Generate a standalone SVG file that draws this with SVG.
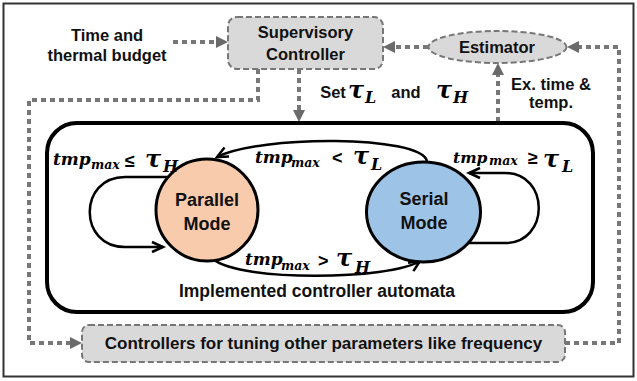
<svg xmlns="http://www.w3.org/2000/svg" width="637" height="381" viewBox="0 0 637 381">
<style>
.lbl{font-family:"Liberation Sans",Arial,sans-serif;font-weight:bold;font-size:16.5px;fill:#111;text-anchor:middle}
.sym{font-family:"Liberation Sans",Arial,sans-serif;font-weight:bold;font-size:18px;fill:#000}
.m{font-family:"DejaVu Serif",serif;font-weight:bold;font-style:italic;fill:#000}
.tmp{font-size:17px}
.sub{font-size:12.5px}
.tau{font-size:24px}
.tsub{font-size:16px}
.dot{fill:none;stroke:#777;stroke-width:4;stroke-dasharray:5 4}
.dbox{fill:#d9d9d9;stroke:#777;stroke-width:2;stroke-dasharray:6 3}
.tr{fill:none;stroke:#000;stroke-width:2.5}
</style>
<defs>
<marker id="ga" markerUnits="userSpaceOnUse" viewBox="0 0 12 12" markerWidth="12" markerHeight="12" refX="0" refY="6" orient="auto" overflow="visible"><path d="M0,0 L12,6 L0,12 Z" fill="#6a6a6a"/></marker>
<marker id="oa" markerUnits="userSpaceOnUse" viewBox="0 0 14 12" markerWidth="14" markerHeight="12" refX="12" refY="6" orient="auto" overflow="visible"><path d="M1,1 L12,6 L1,11" fill="none" stroke="#000" stroke-width="2.5" stroke-linejoin="miter"/></marker>
</defs>
<rect x="3.5" y="3.5" width="630" height="373" fill="#fff" stroke="#333" stroke-width="2"/>

<g id="connectors">
<path class="dot" d="M173 42 H216" marker-end="url(#ga)"/>
<path class="dot" d="M428 47 H395" marker-end="url(#ga)"/>
<path class="dot" d="M565 343 H619 V47 H579" marker-end="url(#ga)"/>
<path class="dot" d="M258 69 V100 H29 V343 H70" marker-end="url(#ga)"/>
<path class="dot" d="M299 69 V110" marker-end="url(#ga)"/>
<path class="dot" d="M498 122 V75" marker-end="url(#ga)"/>
<path class="tr" d="M427 161 C420 135 260 135 217 157" marker-end="url(#oa)"/>
<path class="tr" d="M213 259 C240 282 390 280 420 261" marker-end="url(#oa)"/>
<path class="tr" d="M168 177 L125 177 C78 177 78 247 125 247 L163 247" marker-end="url(#oa)"/>
<path class="tr" d="M468 243 L505 243 C550 243 550 173 505 173 L469 173" marker-end="url(#oa)"/>
</g>

<g id="automata">
<rect x="47" y="123" width="546" height="189" rx="30" fill="none" stroke="#000" stroke-width="4"/>
<text class="lbl" x="317" y="297" style="font-size:17.5px">Implemented controller automata</text>
</g>

<g id="time-budget">
<text class="lbl" x="107" y="41">Time and</text>
<text class="lbl" x="107" y="61">thermal budget</text>
</g>

<g id="supervisory">
<rect class="dbox" x="228" y="17" width="155" height="52" rx="9"/>
<text class="lbl" x="305.5" y="38">Supervisory</text>
<text class="lbl" x="305.5" y="60">Controller</text>
</g>

<g id="estimator">
<ellipse class="dbox" cx="497.5" cy="47" rx="69" ry="16"/>
<text class="lbl" x="497" y="53">Estimator</text>
</g>

<g id="set-label">
<text class="lbl" x="333" y="98">Set</text>
<text class="m tau" x="348" y="98">τ</text>
<text class="m tsub" x="365" y="103">L</text>
<text class="lbl" x="406" y="98">and</text>
<text class="m tau" x="436" y="98">τ</text>
<text class="m tsub" x="453" y="103">H</text>
</g>

<g id="ex-label">
<text class="lbl" x="551" y="90">Ex. time &amp;</text>
<text class="lbl" x="551" y="108">temp.</text>
</g>

<g id="parallel">
<circle cx="207" cy="210" r="51" fill="#f8cbad" stroke="#000" stroke-width="3"/>
<text class="lbl" x="207" y="206" style="font-size:18px">Parallel</text>
<text class="lbl" x="207" y="230" style="font-size:18px">Mode</text>
</g>

<g id="serial">
<ellipse cx="423.5" cy="212" rx="57" ry="50" fill="#9dc3e6" stroke="#000" stroke-width="3"/>
<text class="lbl" x="424" y="205" style="font-size:18px">Serial</text>
<text class="lbl" x="424" y="229" style="font-size:18px">Mode</text>
</g>

<g id="label-par-loop">
<text class="m tmp" x="53" y="165">tmp</text>
<text class="m sub" x="91" y="169">max</text>
<text class="sym" x="125" y="167">≤</text>
<text class="m tau" x="145" y="167">τ</text>
<text class="m tsub" x="163" y="172">H</text>
</g>

<g id="label-to-parallel">
<text class="m tmp" x="255" y="163">tmp</text>
<text class="m sub" x="291" y="167">max</text>
<text class="sym" x="332" y="164">&lt;</text>
<text class="m tau" x="353" y="164">τ</text>
<text class="m tsub" x="371" y="170">L</text>
</g>

<g id="label-to-serial">
<text class="m tmp" x="245" y="265">tmp</text>
<text class="m sub" x="281" y="270">max</text>
<text class="sym" x="318" y="267">&gt;</text>
<text class="m tau" x="336" y="266">τ</text>
<text class="m tsub" x="355" y="273">H</text>
</g>

<g id="label-ser-loop">
<text class="m tmp" x="453" y="163" style="font-size:15.5px">tmp</text>
<text class="m sub" x="489" y="165">max</text>
<text class="sym" x="528" y="164">≥</text>
<text class="m tau" x="543" y="167">τ</text>
<text class="m tsub" x="562" y="172">L</text>
</g>

<g id="controllers">
<rect class="dbox" x="82" y="325" width="483" height="37" rx="7"/>
<text class="lbl" x="323.5" y="349" style="font-size:17px">Controllers for tuning other parameters like frequency</text>
</g>
</svg>
